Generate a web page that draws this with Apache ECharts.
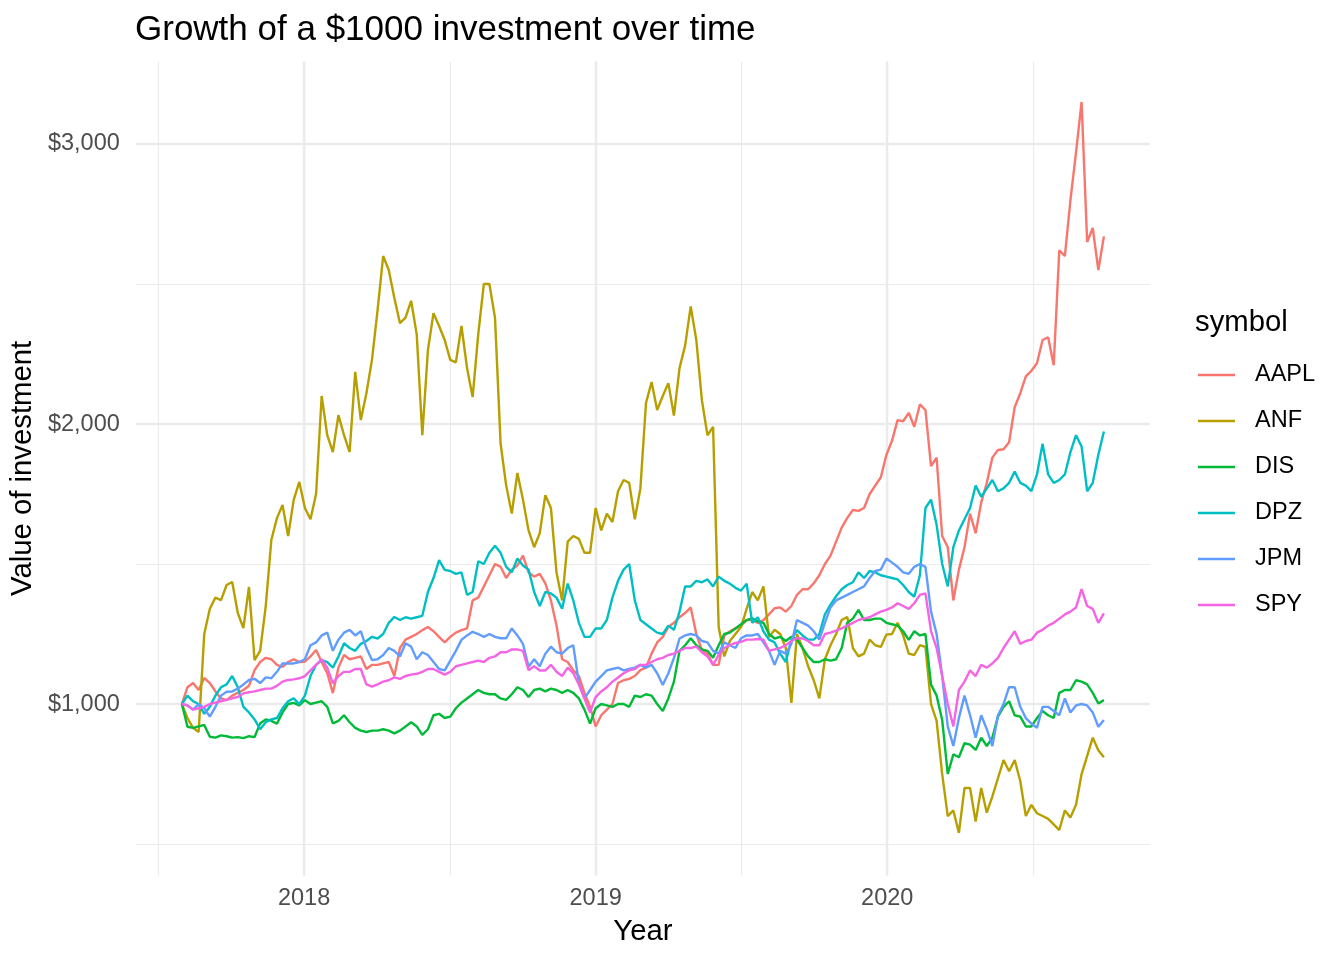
<!DOCTYPE html>
<html>
<head>
<meta charset="utf-8">
<script src="https://cdn.jsdelivr.net/npm/echarts@6/dist/echarts.min.js"></script>
<style>
html,body{margin:0;padding:0;background:#fff;}
#chart{width:1344px;height:960px;}
</style>
</head>
<body>
<div id="chart"></div>
<script>
// ---- data (weekly values of a $1000 investment) ----
const symbols = ['AAPL', 'ANF', 'DIS', 'DPZ', 'JPM', 'SPY'];
const colors = ['#F8766D', '#B79F00', '#00BA38', '#00BFC4', '#619CFF', '#F564E3'];
const startDate = [2017, 7, 1]; // 2017-08-01, weekly steps
const xTicks = [2018, 2019, 2020];
const yTicks = [1000, 2000, 3000];
const yRange = [388, 3295];

const AAPL = [1000,1060,1075,1050,1093,1075,1045,1020,1014,1030,
  1040,1050,1065,1121,1150,1165,1160,1140,1133,1150,
  1160,1150,1151,1170,1193,1150,1110,1039,1130,1175,
  1160,1165,1170,1125,1140,1140,1145,1150,1100,1200,
  1230,1240,1250,1264,1275,1260,1240,1220,1240,1255,
  1264,1270,1370,1380,1420,1460,1500,1490,1450,1480,
  1495,1530,1470,1455,1465,1431,1370,1280,1160,1150,
  1120,1100,1040,990,920,960,980,1000,1075,1085,
  1090,1100,1121,1130,1180,1220,1240,1275,1290,1310,
  1325,1345,1250,1193,1180,1140,1140,1245,1260,1270,
  1280,1300,1300,1290,1300,1320,1342,1345,1330,1350,
  1390,1410,1410,1431,1460,1500,1530,1580,1630,1665,
  1693,1690,1700,1750,1780,1810,1890,1940,2014,2010,
  2040,1990,2070,2050,1850,1880,1600,1560,1370,1480,
  1560,1680,1610,1720,1790,1880,1907,1910,1935,2060,
  2110,2170,2190,2217,2300,2310,2210,2620,2600,2800,
  2970,3150,2650,2700,2550,2670];

const ANF = [1000,950,915,900,1250,1340,1380,1371,1425,1436,
  1325,1271,1418,1157,1190,1350,1586,1664,1711,1600,
  1729,1793,1700,1660,1750,2100,1960,1900,2032,1960,
  1900,2186,2014,2110,2230,2407,2600,2550,2450,2360,
  2380,2440,2320,1960,2264,2396,2350,2300,2229,2220,
  2350,2200,2096,2320,2500,2500,2379,1930,1780,1680,
  1825,1730,1620,1560,1610,1746,1700,1470,1370,1580,
  1600,1590,1540,1540,1700,1620,1680,1650,1760,1800,
  1790,1660,1770,2075,2150,2050,2100,2146,2030,2200,
  2280,2420,2300,2085,1960,1990,1275,1170,1225,1250,
  1275,1340,1400,1370,1420,1239,1265,1250,1200,1004,
  1250,1200,1135,1085,1020,1160,1210,1250,1300,1311,
  1200,1170,1180,1230,1210,1204,1248,1250,1290,1245,
  1180,1175,1210,1204,1000,940,750,600,620,540,
  700,700,580,700,612,670,735,800,760,800,
  725,600,640,610,600,590,570,550,620,595,
  640,750,815,880,835,810];

const DIS = [1000,919,915,920,925,883,880,888,885,880,
  882,878,885,882,931,945,940,930,970,1000,
  1004,995,1014,1000,1005,1010,990,931,940,960,
  935,915,905,900,905,905,910,905,895,905,
  920,935,920,890,910,960,965,950,955,985,
  1005,1020,1035,1050,1040,1035,1035,1020,1015,1035,
  1060,1050,1025,1050,1055,1045,1055,1050,1040,1050,
  1040,1020,980,930,985,1000,995,990,1000,1000,
  990,1030,1025,1035,1030,1000,975,1020,1080,1190,
  1210,1235,1210,1195,1190,1165,1210,1250,1255,1270,
  1285,1300,1306,1295,1290,1250,1234,1240,1225,1240,
  1230,1200,1170,1150,1150,1160,1155,1160,1200,1290,
  1305,1336,1300,1300,1305,1305,1290,1285,1280,1260,
  1229,1260,1245,1250,1070,1030,943,750,820,810,
  860,855,836,880,850,880,955,990,1010,960,
  955,920,920,950,975,960,950,1040,1050,1050,
  1085,1080,1070,1040,1002,1014];

const DPZ = [1000,1030,1010,1000,965,990,1030,1060,1070,1100,
  1060,990,970,945,910,935,945,950,985,1010,
  1020,1000,1030,1100,1140,1157,1150,1130,1170,1217,
  1200,1190,1215,1225,1240,1234,1250,1290,1311,1300,
  1310,1305,1310,1315,1400,1450,1514,1479,1475,1465,
  1470,1390,1400,1510,1500,1540,1565,1540,1490,1470,
  1520,1495,1480,1400,1350,1400,1395,1380,1340,1430,
  1370,1290,1240,1240,1270,1270,1300,1380,1440,1480,
  1500,1370,1300,1285,1270,1255,1250,1280,1265,1330,
  1420,1420,1440,1435,1445,1420,1455,1440,1430,1415,
  1405,1430,1290,1310,1260,1230,1220,1180,1150,1230,
  1264,1245,1230,1230,1250,1320,1355,1385,1410,1425,
  1435,1470,1450,1475,1470,1460,1455,1450,1445,1425,
  1400,1383,1460,1700,1730,1640,1500,1420,1560,1620,
  1660,1700,1780,1740,1770,1800,1760,1770,1790,1830,
  1790,1780,1760,1820,1930,1820,1790,1800,1820,1900,
  1960,1920,1760,1790,1890,1973];

const JPM = [1000,995,980,1000,985,955,990,1030,1044,1045,
  1055,1070,1086,1090,1075,1095,1092,1115,1145,1145,
  1145,1150,1160,1210,1220,1245,1255,1190,1230,1255,
  1265,1245,1260,1200,1157,1160,1175,1200,1190,1170,
  1217,1205,1160,1185,1175,1150,1125,1120,1155,1190,
  1229,1245,1258,1250,1240,1250,1240,1235,1235,1270,
  1245,1215,1133,1160,1135,1180,1205,1185,1180,1200,
  1210,1074,1020,1050,1080,1100,1120,1125,1130,1120,
  1125,1130,1140,1130,1140,1110,1068,1110,1165,1234,
  1245,1250,1245,1225,1220,1190,1180,1220,1210,1200,
  1235,1245,1245,1250,1220,1190,1140,1190,1180,1215,
  1300,1290,1280,1260,1230,1290,1345,1370,1380,1390,
  1400,1410,1420,1450,1475,1480,1520,1505,1490,1470,
  1465,1490,1500,1490,1330,1250,1100,920,850,950,
  1030,960,880,960,910,850,960,1000,1060,1060,
  990,950,930,915,990,990,975,960,1020,970,
  995,1000,995,970,919,943];

const SPY = [1000,995,980,985,990,1000,1005,1010,1015,1020,
  1025,1038,1042,1045,1050,1055,1055,1065,1080,1086,
  1088,1092,1100,1120,1140,1160,1130,1074,1100,1115,
  1115,1125,1125,1070,1062,1070,1080,1085,1095,1090,
  1100,1105,1108,1115,1125,1125,1115,1105,1115,1135,
  1140,1145,1150,1155,1150,1165,1170,1185,1185,1195,
  1195,1190,1121,1135,1120,1120,1140,1115,1100,1130,
  1110,1070,1020,970,1025,1045,1060,1080,1095,1110,
  1120,1125,1140,1140,1150,1160,1165,1175,1180,1190,
  1200,1200,1205,1185,1170,1140,1175,1200,1210,1218,
  1222,1230,1230,1232,1230,1190,1195,1200,1210,1225,
  1236,1234,1225,1210,1210,1250,1255,1262,1270,1280,
  1290,1300,1305,1310,1320,1330,1336,1345,1360,1350,
  1340,1360,1390,1395,1260,1200,1100,1000,920,1050,
  1080,1120,1100,1140,1130,1145,1165,1200,1230,1260,
  1215,1225,1230,1255,1265,1280,1290,1305,1320,1330,
  1345,1410,1350,1340,1290,1324];

const seriesValues = [AAPL, ANF, DIS, DPZ, JPM, SPY];

// ---- dates as decimal years ----
function decimalYear(ms) {
  const y = new Date(ms).getUTCFullYear();
  const a = Date.UTC(y, 0, 1), b = Date.UTC(y + 1, 0, 1);
  return y + (ms - a) / (b - a);
}
const t0 = Date.UTC(startDate[0], startDate[1], startDate[2]);
const dates = AAPL.map((_, i) => decimalYear(t0 + i * 7 * 86400000));
const span = dates[dates.length - 1] - dates[0];
const xMin = dates[0] - 0.05 * span;
const xMax = dates[dates.length - 1] + 0.05 * span;

const font = "'Liberation Sans', Arial, Helvetica, sans-serif";
const gridColor = '#EBEBEB';

const chart = echarts.init(document.getElementById('chart'));
const option = {
  animation: false,
  backgroundColor: '#ffffff',
  title: {
    text: 'Growth of a $1000 investment over time',
    left: 130, top: 8,
    textStyle: { fontFamily: font, fontSize: 35, fontWeight: 'normal', color: '#000' }
  },
  grid: { left: 135, right: 194, top: 61.4, bottom: 84.6 },
  legend: {
    orient: 'vertical', left: 1193, top: 358,
    itemWidth: 37, itemHeight: 24, itemGap: 22,
    icon: 'path://M0,0 L37,0 L37,2.6 L0,2.6 Z',
    textStyle: { fontFamily: font, fontSize: 23.5, color: '#000', padding: [0, 0, 0, 15] },
    data: symbols
  },
  graphic: [{
    type: 'text', left: 1195, top: 308,
    style: { text: 'symbol', fontFamily: font, fontSize: 29.3, fill: '#000' }
  }],
  xAxis: [{
    type: 'value', min: xMin, max: xMax, minInterval: 1, maxInterval: 1,
    axisLine: { show: false }, axisTick: { show: false },
    axisLabel: {
      formatter: v => xTicks.includes(v) ? String(v) : '',
      color: '#4D4D4D', fontSize: 23.5, fontFamily: font, margin: 11
    },
    splitLine: { show: true, showMinLine: false, showMaxLine: false, lineStyle: { color: gridColor, width: 2.4 } },
    name: 'Year', nameLocation: 'middle', nameGap: 42,
    nameTextStyle: { fontFamily: font, fontSize: 29.3, color: '#000' }
  }, {
    type: 'value', min: xMin, max: xMax, minInterval: 0.5, maxInterval: 0.5, position: 'top',
    axisLine: { show: false }, axisTick: { show: false }, axisLabel: { show: false },
    splitLine: { show: true, showMinLine: false, showMaxLine: false, lineStyle: { color: gridColor, width: 1.2 } }
  }],
  yAxis: [{
    type: 'value', min: yRange[0], max: yRange[1], minInterval: 1000, maxInterval: 1000,
    axisLine: { show: false }, axisTick: { show: false },
    axisLabel: {
      formatter: v => yTicks.includes(v) ? '$' + v.toLocaleString('en-US') : '',
      color: '#4D4D4D', fontSize: 23.5, fontFamily: font, margin: 16
    },
    splitLine: { show: true, showMinLine: false, showMaxLine: false, lineStyle: { color: gridColor, width: 2.4 } },
    name: 'Value of investment', nameLocation: 'middle', nameGap: 92, nameRotate: 90,
    nameTextStyle: { fontFamily: font, fontSize: 29.3, color: '#000' }
  }, {
    type: 'value', min: yRange[0], max: yRange[1], minInterval: 500, maxInterval: 500, position: 'right',
    axisLine: { show: false }, axisTick: { show: false }, axisLabel: { show: false },
    splitLine: { show: true, showMinLine: false, showMaxLine: false, lineStyle: { color: gridColor, width: 1.2 } }
  }],
  series: symbols.map((s, k) => ({
    name: s, type: 'line', xAxisIndex: 0, yAxisIndex: 0,
    showSymbol: false, symbol: 'none',
    color: colors[k],
    lineStyle: { width: 2.4, color: colors[k] },
    data: seriesValues[k].map((v, i) => [dates[i], v])
  }))
};
chart.setOption(option);
</script>
</body>
</html>
